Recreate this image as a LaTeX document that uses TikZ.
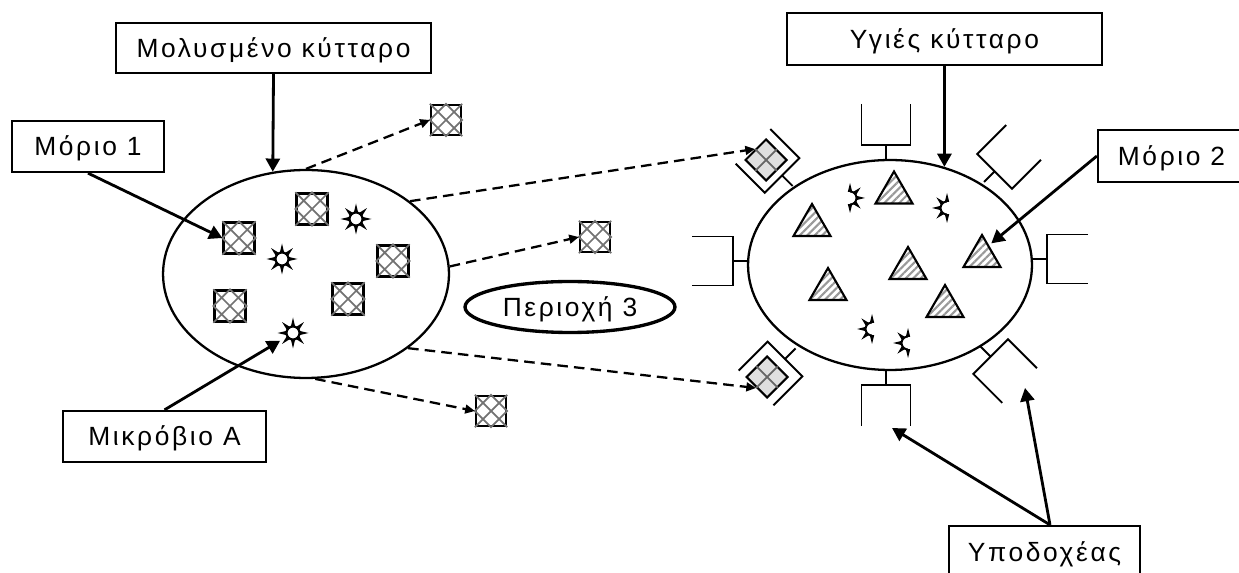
\documentclass[tikz,border=0pt]{standalone}
\usepackage{fontspec}
\setmainfont{Liberation Sans}[LetterSpace=10]
\usetikzlibrary{arrows.meta,shapes.geometric,patterns.meta}
\newcommand{\pxUnit}{0.02cm}
\newcommand{\labelFont}{\fontsize{15}{18}\selectfont}
\newcommand{\molSide}{0.62cm}
\newcommand{\boundSide}{0.58cm}
\tikzset{
  labelbox/.style={draw, line width=1.3pt, inner sep=0pt, text height=10.8pt, text depth=0pt, font=\labelFont},
  cellline/.style={line width=1.3pt},
  pointer/.style={line width=1.6pt, -{Triangle[length=7.5pt,width=8pt]}},
  spill/.style={line width=1.3pt, dash pattern=on 6pt off 3.5pt, -{Triangle[length=5.5pt,width=5pt]}},
  molsq/.style={draw, line width=1.3pt, minimum size=\molSide, inner sep=0pt},
  boundsq/.style={draw, line width=1.2pt, minimum size=\boundSide, inner sep=0pt, rotate=45, fill=gray!25},
  molB/.style={draw, line width=1.2pt, pattern={Lines[angle=45,distance=3pt,line width=1.2pt]}, pattern color=gray!80},
  receptor/.pic={\draw[line width=1.1pt] (0,0) -- (0,-15) (-24.5,-56) -- (-24.5,-15) -- (24.5,-15) -- (24.5,-56);}
}

\begin{document}
\begin{tikzpicture}[x=\pxUnit, y=-\pxUnit]
\useasboundingbox (0,0) rectangle (1239,573);
% cells
\node[ellipse, draw, cellline, minimum width=5.72cm, minimum height=4.16cm, inner sep=0pt] (cellL) at (306,274) {};
\node[ellipse, draw, cellline, minimum width=5.68cm, minimum height=4.2cm, inner sep=0pt] (cellR) at (890,265) {};
\node[ellipse, draw, line width=1.9pt, minimum width=4.2cm, minimum height=1.02cm, inner sep=0pt,
      font=\labelFont, text height=10.8pt, text depth=0pt] (zone3) at (570,307) {Περιοχή 3};

% labels
\node[labelbox, minimum width=6.3cm, minimum height=1cm] (infected) at (273.5,48) {Μολυσμένο κύτταρο};
\node[labelbox, minimum width=3.04cm, minimum height=1.02cm] (mol1) at (88,146.5) {Μόριο 1};
\node[labelbox, minimum width=4.06cm, minimum height=1.02cm] (microbe) at (164.5,436.5) {Μικρόβιο Α};
\node[labelbox, minimum width=6.3cm, minimum height=1.04cm] (healthy) at (944.5,39) {Υγιές κύτταρο};
\node[labelbox, minimum width=2.94cm, minimum height=1.04cm] (mol2) at (1171.5,156) {Μόριο 2};
\node[labelbox, minimum width=3.82cm, minimum height=1.04cm] (receptors) at (1044.5,552) {Υποδοχέας};

% molecule 1, inside and released
\foreach \n/\x/\y in {1/239/238, 2/312/209, 3/393/261, 4/230/306, 5/348/299}
  \node[molsq] (m1in\n) at (\x,\y) {};
\node[molsq, minimum size=0.6cm] (m1top) at (446,120) {};
\node[molsq, minimum size=0.6cm] (m1mid) at (595,237) {};
\node[molsq, minimum size=0.6cm] (m1low) at (491,411) {};
\foreach \n in {m1in1,m1in2,m1in3,m1in4,m1in5,m1top,m1mid,m1low}
  \draw[gray!90!black, line width=1pt] (\n.north west) -- (\n.south east) (\n.north east) -- (\n.south west)
        (\n.north) -- (\n.east) -- (\n.south) -- (\n.west) -- cycle;

% microbe A
\foreach \x/\y [count=\i] in {356/219, 282/259, 293/333} {
  \coordinate (microbe\i) at (\x,\y);
  \begin{scope}[shift={(microbe\i)}]
    \foreach \a in {0,45,...,315}
      \fill (\a-20:6.5) -- (\a:15.5) -- (\a+20:6.5) -- cycle;
    \draw[line width=1.2pt, fill=white] (0,0) circle[radius=6.5];
  \end{scope}
}
\foreach \x/\y/\r [count=\i] in {850/198/0, 947/208/180, 872/329/180, 908/343/180} {
  \coordinate (frag\i) at (\x,\y);
  \begin{scope}[shift={(frag\i)}, rotate=\r]
    \foreach \a in {-90,-45,...,90}
      \fill (\a-20:6.5) -- (\a:15) -- (\a+20:6.5) -- cycle;
    \draw[line width=1.1pt] (-90:6.5) arc[start angle=-90, end angle=90, radius=6.5];
  \end{scope}
}

% molecule 2
\foreach \x/\y [count=\i] in {894/187.5, 812/220, 908/263, 982/251, 828/284, 945/301} {
  \coordinate (mol2in\i) at (\x,\y);
  \draw[molB] (\x-18.5,\y+16) -- (\x,\y-16) -- (\x+18.5,\y+16) -- cycle;
}

% receptors
\foreach \x/\y/\r in {886/160/0, 886/370/180, 748/261/90, 1032/259/-90, 984/182/-45, 980/346/-135, 792.6/186/45, 795.6/348.4/135}
  \pic[rotate=\r] at (\x,\y) {receptor};
\node[boundsq] (m1boundU) at (766,160) {};
\node[boundsq] (m1boundL) at (767,377) {};
\foreach \n in {m1boundU,m1boundL}
  \draw[gray!80!black, line width=1pt] (\n.north) -- (\n.south) (\n.east) -- (\n.west);
\coordinate (recB) at (892,428);
\coordinate (recLR) at (1025,388);

% connectors
\draw[pointer] (infected.south) -- (cellL.108);
\draw[pointer] (mol1.south) -- (m1in1.west);
\draw[pointer, shorten >=0.3cm] (microbe.north) -- (microbe3);
\draw[pointer] (healthy.south) -- (cellR.61);
\draw[pointer, shorten >=0.24cm] (mol2.west) -- (mol2in4);
\draw[pointer] ([xshift=0.11cm]receptors.north) -- (recB);
\draw[pointer] ([xshift=0.11cm]receptors.north) -- (recLR);

\draw[spill] (cellL.north) -- (m1top.west);
\draw[spill] (cellL.35) -- (m1boundU.north);
\draw[spill] (cellL.3) -- (m1mid.west);
\draw[spill] (cellL.-36) -- (m1boundL.west);
\draw[spill] (cellL.-85) -- (m1low.west);
\end{tikzpicture}
\end{document}
